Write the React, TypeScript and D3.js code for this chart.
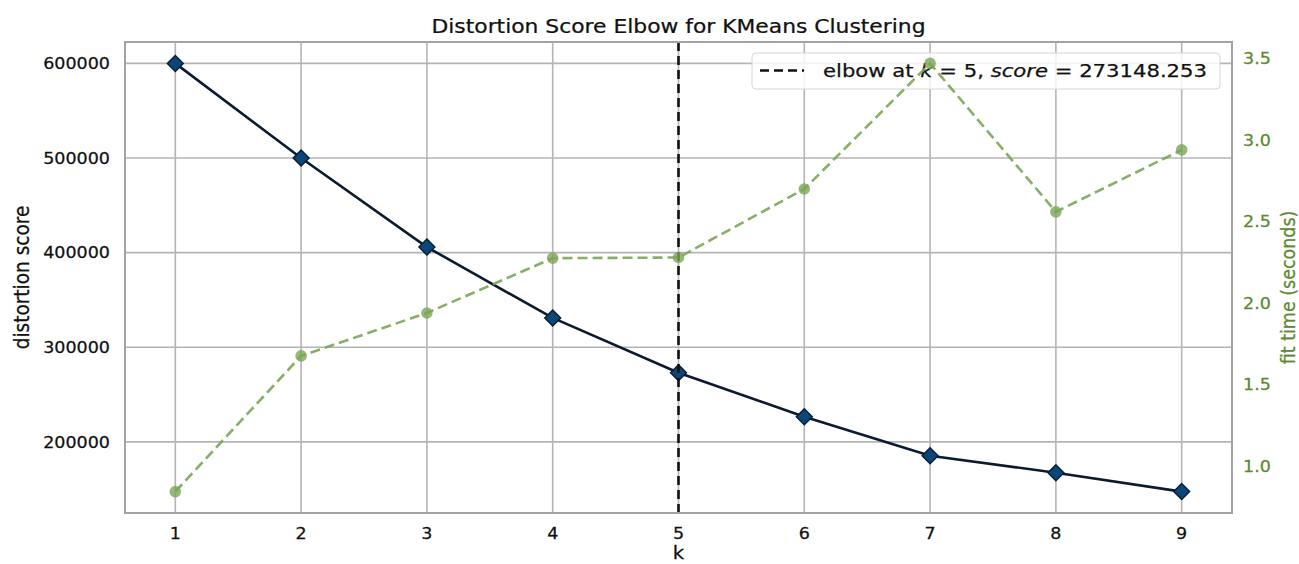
import React from "react";
import * as d3 from "d3";

const kValues = [1, 2, 3, 4, 5, 6, 7, 8, 9];
const distortion = [600000, 500000, 405900, 331000, 273148.253, 226600, 185400, 167500, 147500];
const fitTimes = [0.845, 1.677, 1.94, 2.276, 2.28, 2.7, 3.47, 2.56, 2.94];
const leftTicks = [200000, 300000, 400000, 500000, 600000];
const rightTicks = [1.0, 1.5, 2.0, 2.5, 3.0, 3.5];
const elbowK = 5;
const elbowScore = 273148.253;

const W = 1299;
const H = 564;
const L = 125, R = 1232, T = 42, B = 513;
const SX = 1.13;
const FONT = "DejaVu Sans, sans-serif";

function pad(ext: [number, number]): [number, number] {
  const m = (ext[1] - ext[0]) * 0.05;
  return [ext[0] - m, ext[1] + m];
}

function HText(props: { x: number; y: number; anchor?: string; size: number; fill?: string; children: any; sx?: number }) {
  const { x, y, anchor = "start", size, fill = "#111", children, sx = SX } = props;
  return (
    <text
      transform={`translate(${x},${y}) scale(${sx},1)`}
      textAnchor={anchor}
      fontSize={size}
      fontFamily={FONT}
      fill={fill}
      stroke={fill}
      strokeWidth={0.25}
    >
      {children}
    </text>
  );
}

export default function App() {
  const x = d3.scaleLinear().domain(pad([1, 9])).range([L, R]);
  const yL = d3.scaleLinear().domain(pad(d3.extent(distortion) as [number, number])).range([B, T]);
  const yR = d3.scaleLinear().domain(pad(d3.extent(fitTimes) as [number, number])).range([B, T]);

  const distLine = d3.line<number>().x((_, i) => x(kValues[i])).y((d) => yL(d))(distortion) || "";
  const fitLine = d3.line<number>().x((_, i) => x(kValues[i])).y((d) => yR(d))(fitTimes) || "";

  const green = "#7ba658";
  const greenText = "#5b8a32";
  const diamond = 8;

  return (
    <svg width={W} height={H} style={{ position: "absolute", left: 0, top: 0, background: "#fff" }}>
      <rect x={0} y={0} width={W} height={H} fill="#fff" />
      {/* grid */}
      {kValues.map((k) => (
        <line key={"gx" + k} x1={x(k)} x2={x(k)} y1={T} y2={B} stroke="#b4b4b4" strokeWidth={1.6} />
      ))}
      {leftTicks.map((v) => (
        <line key={"gy" + v} x1={L} x2={R} y1={yL(v)} y2={yL(v)} stroke="#b4b4b4" strokeWidth={1.6} />
      ))}
      {/* distortion line */}
      <path d={distLine} fill="none" stroke="#0b1a2e" strokeWidth={2.6} />
      {distortion.map((v, i) => {
        const cx = x(kValues[i]);
        const cy = yL(v);
        return (
          <path
            key={"d" + i}
            d={`M${cx},${cy - diamond}L${cx + diamond},${cy}L${cx},${cy + diamond}L${cx - diamond},${cy}Z`}
            fill="#0b4677"
            stroke="#071e36"
            strokeWidth={1.4}
          />
        );
      })}
      {/* elbow line */}
      <line x1={x(elbowK)} x2={x(elbowK)} y1={T} y2={B} stroke="#111" strokeWidth={2.6} strokeDasharray="9,5" />
      {/* legend */}
      <rect x={752} y={53} width={468} height={36} rx={4} fill="#fff" fillOpacity={0.82} stroke="#d6d6d6" strokeWidth={1} />
      <line x1={760} x2={804} y1={70.5} y2={70.5} stroke="#111" strokeWidth={2.6} strokeDasharray="9,5" />
      <text x={823} y={77} fontSize={18} fontFamily={FONT} fill="#111" stroke="#111" strokeWidth={0.25} textLength={384} lengthAdjust="spacingAndGlyphs">
        {"elbow at "}
        <tspan fontStyle="italic">k</tspan>
        {" = 5, "}
        <tspan fontStyle="italic">score</tspan>
        {" = " + elbowScore.toFixed(3)}
      </text>
      {/* fit time */}
      <path d={fitLine} fill="none" stroke={green} strokeOpacity={0.9} strokeWidth={2.6} strokeDasharray="10,5" />
      {fitTimes.map((v, i) => (
        <circle key={"f" + i} cx={x(kValues[i])} cy={yR(v)} r={5.8} fill={green} fillOpacity={0.8} />
      ))}
      {/* spines */}
      <rect x={L} y={T} width={R - L} height={B - T} fill="none" stroke="#a3a3a3" strokeWidth={2} />
      {/* x ticks */}
      {kValues.map((k) => (
        <HText key={"xt" + k} x={x(k)} y={539} anchor="middle" size={15.5}>
          {String(k)}
        </HText>
      ))}
      {/* left ticks */}
      {leftTicks.map((v) => (
        <HText key={"lt" + v} x={110} y={yL(v) + 5.7} anchor="end" size={15.5}>
          {String(v)}
        </HText>
      ))}
      {/* right ticks */}
      {rightTicks.map((v) => (
        <HText key={"rt" + v} x={1243} y={yR(v) + 5.7} anchor="start" size={15.5} fill={greenText}>
          {v.toFixed(1)}
        </HText>
      ))}
      {/* title */}
      <HText x={(L + R) / 2} y={33} anchor="middle" size={19.5} sx={1.12}>
        Distortion Score Elbow for KMeans Clustering
      </HText>
      {/* x label */}
      <HText x={(L + R) / 2} y={559} anchor="middle" size={17.5}>
        k
      </HText>
      {/* left label */}
      <text
        transform={`translate(29,${(T + B) / 2}) scale(${SX},1) rotate(-90)`}
        textAnchor="middle"
        fontSize={18.5}
        fontFamily={FONT}
        fill="#111"
        stroke="#111"
        strokeWidth={0.25}
      >
        distortion score
      </text>
      {/* right label */}
      <text
        transform={`translate(1295,${(T + B) / 2 + 10}) scale(${SX},1) rotate(-90)`}
        textAnchor="middle"
        fontSize={17.5}
        fontFamily={FONT}
        fill={greenText}
        stroke={greenText}
        strokeWidth={0.25}
      >
        fit time (seconds)
      </text>
    </svg>
  );
}
